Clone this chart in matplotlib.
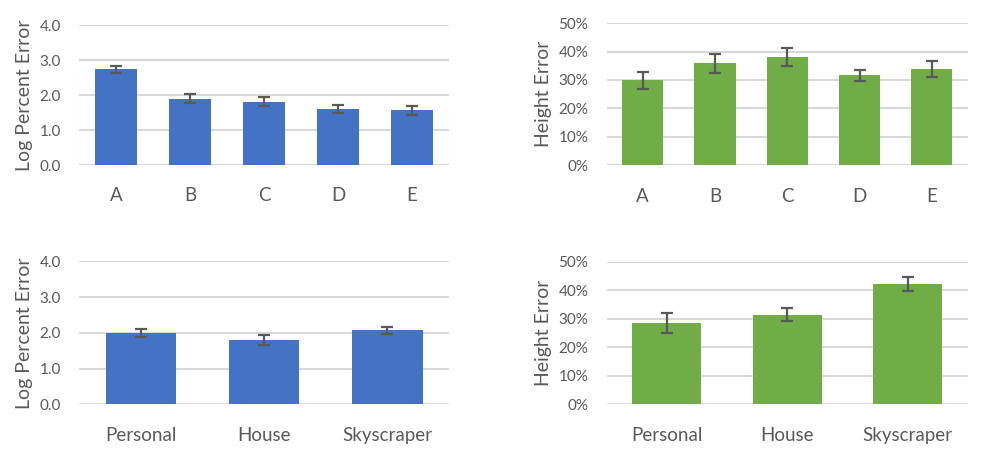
import matplotlib.pyplot as plt
from matplotlib.ticker import FuncFormatter

plt.rcParams['font.family'] = ['Lato', 'DejaVu Sans']

groups = ['A', 'B', 'C', 'D', 'E']
log_err_groups = [2.73, 1.89, 1.81, 1.60, 1.57]
log_err_groups_sd = [0.10, 0.13, 0.12, 0.12, 0.13]
height_err_groups = [29.9, 35.8, 38.2, 31.7, 33.9]
height_err_groups_sd = [3.0, 3.2, 3.2, 1.9, 2.8]

types = ['Personal', 'House', 'Skyscraper']
log_err_types = [2.00, 1.79, 2.07]
log_err_types_sd = [0.12, 0.14, 0.09]
height_err_types = [28.6, 31.5, 42.2]
height_err_types_sd = [3.6, 2.2, 2.4]

blue = '#4472C4'
green = '#70AD47'
grey = '#595959'


def panel(ax, cats, vals, sd, color, ylabel, ymax, step, pct):
    x = range(len(cats))
    ax.bar(x, vals, width=0.57, color=color, zorder=3,
           yerr=sd, error_kw=dict(ecolor=grey, elinewidth=1.6, capsize=4, capthick=1.6, zorder=4))
    ax.set_xlim(-0.5, len(cats) - 0.5)
    ax.set_ylim(0, ymax)
    ticks = [i * step for i in range(int(round(ymax / step)) + 1)]
    ax.set_yticks(ticks)
    if pct:
        ax.yaxis.set_major_formatter(FuncFormatter(lambda v, p: '%d%%' % round(v)))
    else:
        ax.yaxis.set_major_formatter(FuncFormatter(lambda v, p: '%.1f' % v))
    ax.set_xticks(list(x))
    ax.set_xticklabels(cats)
    ax.grid(axis='y', color='#D9D9D9', linewidth=1.5, zorder=0)
    for s in ax.spines.values():
        s.set_visible(False)
    ax.tick_params(axis='both', length=0, colors=grey)
    ax.tick_params(axis='y', labelsize=11, pad=13)
    ax.tick_params(axis='x', labelsize=13.5, pad=16)
    ax.set_ylabel(ylabel, fontsize=14, color=grey, labelpad=5)


fig = plt.figure(figsize=(9.83, 4.61), dpi=100)
ax1 = fig.add_axes([0.0804, 0.642, 0.3764, 0.3037])
ax2 = fig.add_axes([0.617, 0.6414, 0.3677, 0.3086])
ax3 = fig.add_axes([0.0804, 0.123, 0.3764, 0.3102])
ax4 = fig.add_axes([0.617, 0.123, 0.3677, 0.3087])

panel(ax1, groups, log_err_groups, log_err_groups_sd, blue, 'Log Percent Error', 4.0, 1.0, False)
panel(ax2, groups, height_err_groups, height_err_groups_sd, green, 'Height Error', 50, 10, True)
panel(ax3, types, log_err_types, log_err_types_sd, blue, 'Log Percent Error', 4.0, 1.0, False)
panel(ax4, types, height_err_types, height_err_types_sd, green, 'Height Error', 50, 10, True)

fig.savefig('out.png', dpi=100)
